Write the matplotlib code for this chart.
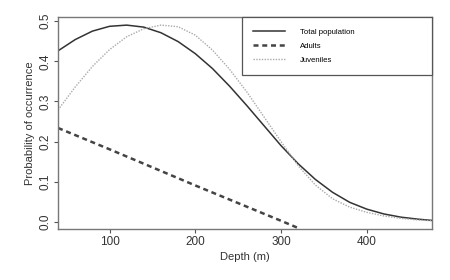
import matplotlib
matplotlib.use('Agg')
import matplotlib.pyplot as plt

plt.rcParams['font.family'] = ['Liberation Sans', 'DejaVu Sans']

# depth grid (m) and predicted probabilities
depth = [40, 60, 80, 100, 120, 140, 160, 180, 200, 220, 240, 260, 280,
         300, 320, 340, 360, 380, 400, 420, 440, 460, 476]
total = [0.426, 0.454, 0.475, 0.487, 0.490, 0.485, 0.471, 0.449, 0.419,
         0.382, 0.338, 0.290, 0.240, 0.190, 0.145, 0.106, 0.074, 0.049,
         0.032, 0.020, 0.012, 0.007, 0.004]
juveniles = [0.279, 0.336, 0.387, 0.429, 0.461, 0.481, 0.490, 0.486, 0.465,
             0.428, 0.380, 0.324, 0.262, 0.200, 0.140, 0.092, 0.058, 0.037,
             0.024, 0.015, 0.009, 0.005, 0.003]
adult_depth = [40, 100, 150, 200, 250, 300, 320]
adults = [0.234, 0.181, 0.136, 0.091, 0.047, 0.003, -0.015]

fig = plt.figure(figsize=(4.5, 2.8), dpi=100)
ax = fig.add_axes([0.129, 0.182, 0.831, 0.757])

ax.plot(depth, total, color='#333333', lw=1.1, label='Total population')
ax.plot(adult_depth, adults, color='#444444', lw=1.8, ls=(0, (2.0, 1.5)),
        label='Adults')
ax.plot(depth, juveniles, color='#aaaaaa', lw=1.0, ls=(0, (1, 1)),
        label='Juveniles')

ax.set_xlim(40, 476)
ax.set_ylim(-0.0175, 0.51)
ax.set_xticks([100, 200, 300, 400])
ax.set_yticks([0.0, 0.1, 0.2, 0.3, 0.4, 0.5])
ax.set_yticklabels(['0.0', '0.1', '0.2', '0.3', '0.4', '0.5'], rotation=90,
                   va='center')
ax.tick_params(direction='out', length=3, width=0.8, colors='#555555',
               labelcolor='#333333', labelsize=8.5, pad=2)
for s in ax.spines.values():
    s.set_color('#777777')
    s.set_linewidth(1.0)

ax.set_xlabel('Depth (m)', fontsize=8, color='#333333', labelpad=3)
ax.set_ylabel('Probability of occurrence', fontsize=8, color='#333333',
              labelpad=3)

leg = ax.legend(loc='upper right', bbox_to_anchor=(0.492, 0, 0.508, 1),
                mode='expand', borderaxespad=0, fontsize=5.6, frameon=True,
                fancybox=False, edgecolor='#555555', framealpha=1,
                handlelength=4.1, handletextpad=1.9, labelspacing=0.86,
                borderpad=1.42)
leg.get_frame().set_linewidth(0.9)

fig.savefig('out.png', dpi=100)
